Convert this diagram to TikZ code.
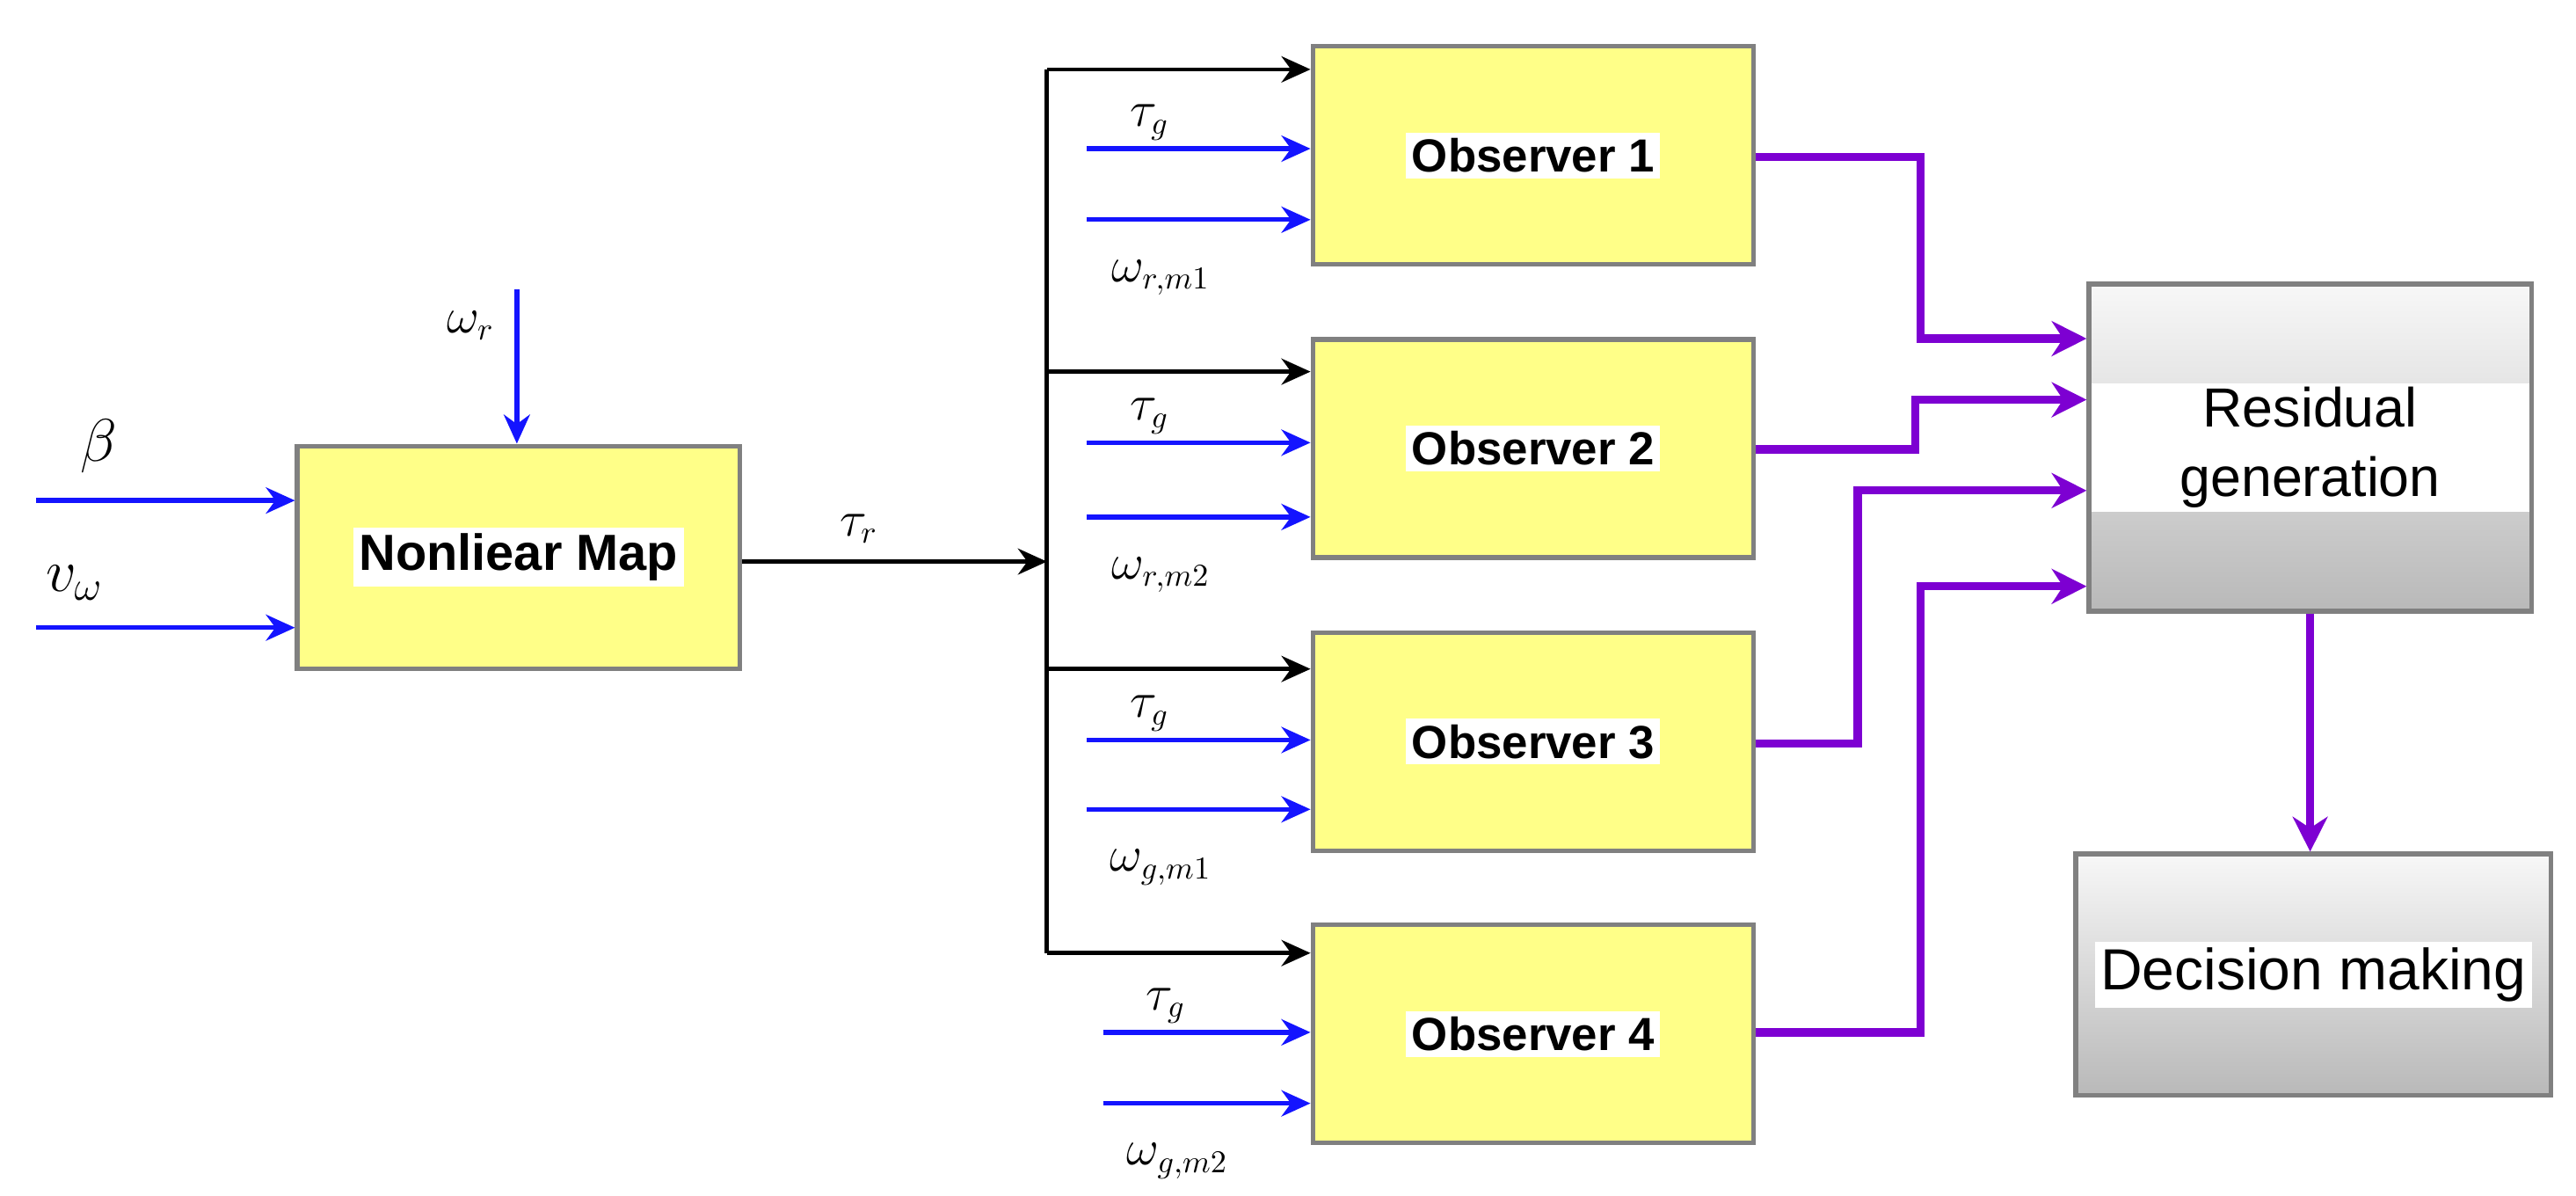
\documentclass[tikz,border=0pt]{standalone}
\usepackage{fontspec}
\setsansfont{Liberation Sans}
\usetikzlibrary{arrows.meta,calc}
\definecolor{boxyellow}{RGB}{255,255,136}
\definecolor{boxedge}{RGB}{128,128,128}
\definecolor{sigblue}{RGB}{20,20,255}
\definecolor{respurple}{RGB}{125,0,210}
\tikzset{%
    block/.style={draw=boxedge,line width=1.6pt,fill=boxyellow,inner sep=0pt},
    blocktext/.style={fill=white,inner sep=2pt,font=\sffamily\bfseries\fontsize{16}{19}\selectfont},
    inarrow/.style={-{Stealth[length=10pt,width=9pt]},sigblue,line width=1.6pt},
    busarrow/.style={-{Stealth[length=10pt,width=9pt]},black,line width=1.4pt},
    resarrow/.style={-{Stealth[length=12pt,width=12pt]},respurple,line width=2.8pt},
    siglabel/.style={inner sep=1pt,font=\fontsize{16}{18}\selectfont}
}
\begin{document}
\begin{tikzpicture}[x=0.02cm,y=-0.02cm]
    \useasboundingbox (0,0) rectangle (1560,724);
    % blocks
    \node[block,minimum width=5.36cm,minimum height=2.7cm](map) at (314,337.5) {};
    \node[blocktext,font=\sffamily\bfseries\fontsize{17.5}{20}\selectfont] at (map) {Nonliear Map};
    \foreach \i/\y in {1/94,2/271.5,3/449,4/626}{
        \node[block,minimum width=5.34cm,minimum height=2.64cm](obs\i) at (928.5,\y) {};
        \node[blocktext] at (obs\i) {Observer \i};
    }
    \node[draw=boxedge,line width=1.6pt,minimum width=5.36cm,minimum height=3.96cm,
        path picture={%
            \path (path picture bounding box.north west) coordinate (nw)
                  (path picture bounding box.south east) coordinate (se);
            \shade[top color=gray!6,bottom color=gray!20] (nw) rectangle ($(se|-nw)+(0,60)$);
            \fill[white] ($(nw)+(0,60)$) rectangle ($(se|-nw)+(0,138)$);
            \shade[top color=gray!40,bottom color=gray!55] ($(nw)+(0,138)$) rectangle (se);
        }](res) at (1399,271) {};
    \node[align=center,font=\sffamily\fontsize{19}{24}\selectfont] at (res) {Residual\\generation};
    \node[draw=boxedge,line width=1.6pt,top color=gray!6,bottom color=gray!55,
        minimum width=5.76cm,minimum height=2.92cm](dec) at (1401,590) {};
    \node[fill=white,inner sep=2pt,font=\sffamily\fontsize{20}{24}\selectfont] at (dec) {Decision making};
    % inputs of the map
    \coordinate (beta) at (22,303);
    \coordinate (vw) at (22,380);
    \coordinate (wr) at (313,175);
    \node[siglabel,font=\fontsize{20}{22}\selectfont] at (60,270) {$\beta$};
    \node[siglabel,font=\fontsize{20}{22}\selectfont] at (45,353) {$v_\omega$};
    \node[siglabel] at (285,197) {$\omega_r$};
    \draw[inarrow] (beta) -- (beta -| map.west);
    \draw[inarrow] (vw) -- (vw -| map.west);
    \draw[inarrow] (wr) -- (wr |- map.north);
    % torque bus
    \coordinate (bus) at (634,340);
    \node[siglabel] at (520,320) {$\tau_r$};
    \draw[busarrow] (map.east |- bus) -- (bus);
    \draw[line width=1.4pt] (634,42) -- (634,577);
    \foreach \i/\y in {1/42,2/225,3/405,4/577}
        \draw[busarrow] (634,\y) -- (obs\i.west |- 0,\y);
    % observer inputs
    \foreach \i/\ya/\yb/\xs/\lab in {1/90/133/658/{r,m1},2/268/313/658/{r,m2},3/448/490/658/{g,m1},4/625/668/668/{g,m2}}{
        \coordinate (tg\i) at (\xs,\ya);
        \coordinate (wm\i) at (\xs,\yb);
        \draw[inarrow] (tg\i) -- (tg\i -| obs\i.west);
        \draw[inarrow] (wm\i) -- (wm\i -| obs\i.west);
        \node[siglabel] at ($(tg\i)+(38,-16)$) {$\tau_g$};
        \node[siglabel] at ($(wm\i)+(45,35)$) {$\omega_{\lab}$};
    }
    % residuals
    \draw[resarrow] (obs1.east |- 0,95) -| (1163,205) -- (res.west |- 0,205);
    \draw[resarrow] (obs2.east |- 0,272) -| (1160,242) -- (res.west |- 0,242);
    \draw[resarrow] (obs3.east |- 0,450) -| (1125,297) -- (res.west |- 0,297);
    \draw[resarrow] (obs4.east |- 0,625) -| (1163,355) -- (res.west |- 0,355);
    \draw[resarrow] (res.south) -- (res.south |- dec.north);
\end{tikzpicture}
\end{document}
